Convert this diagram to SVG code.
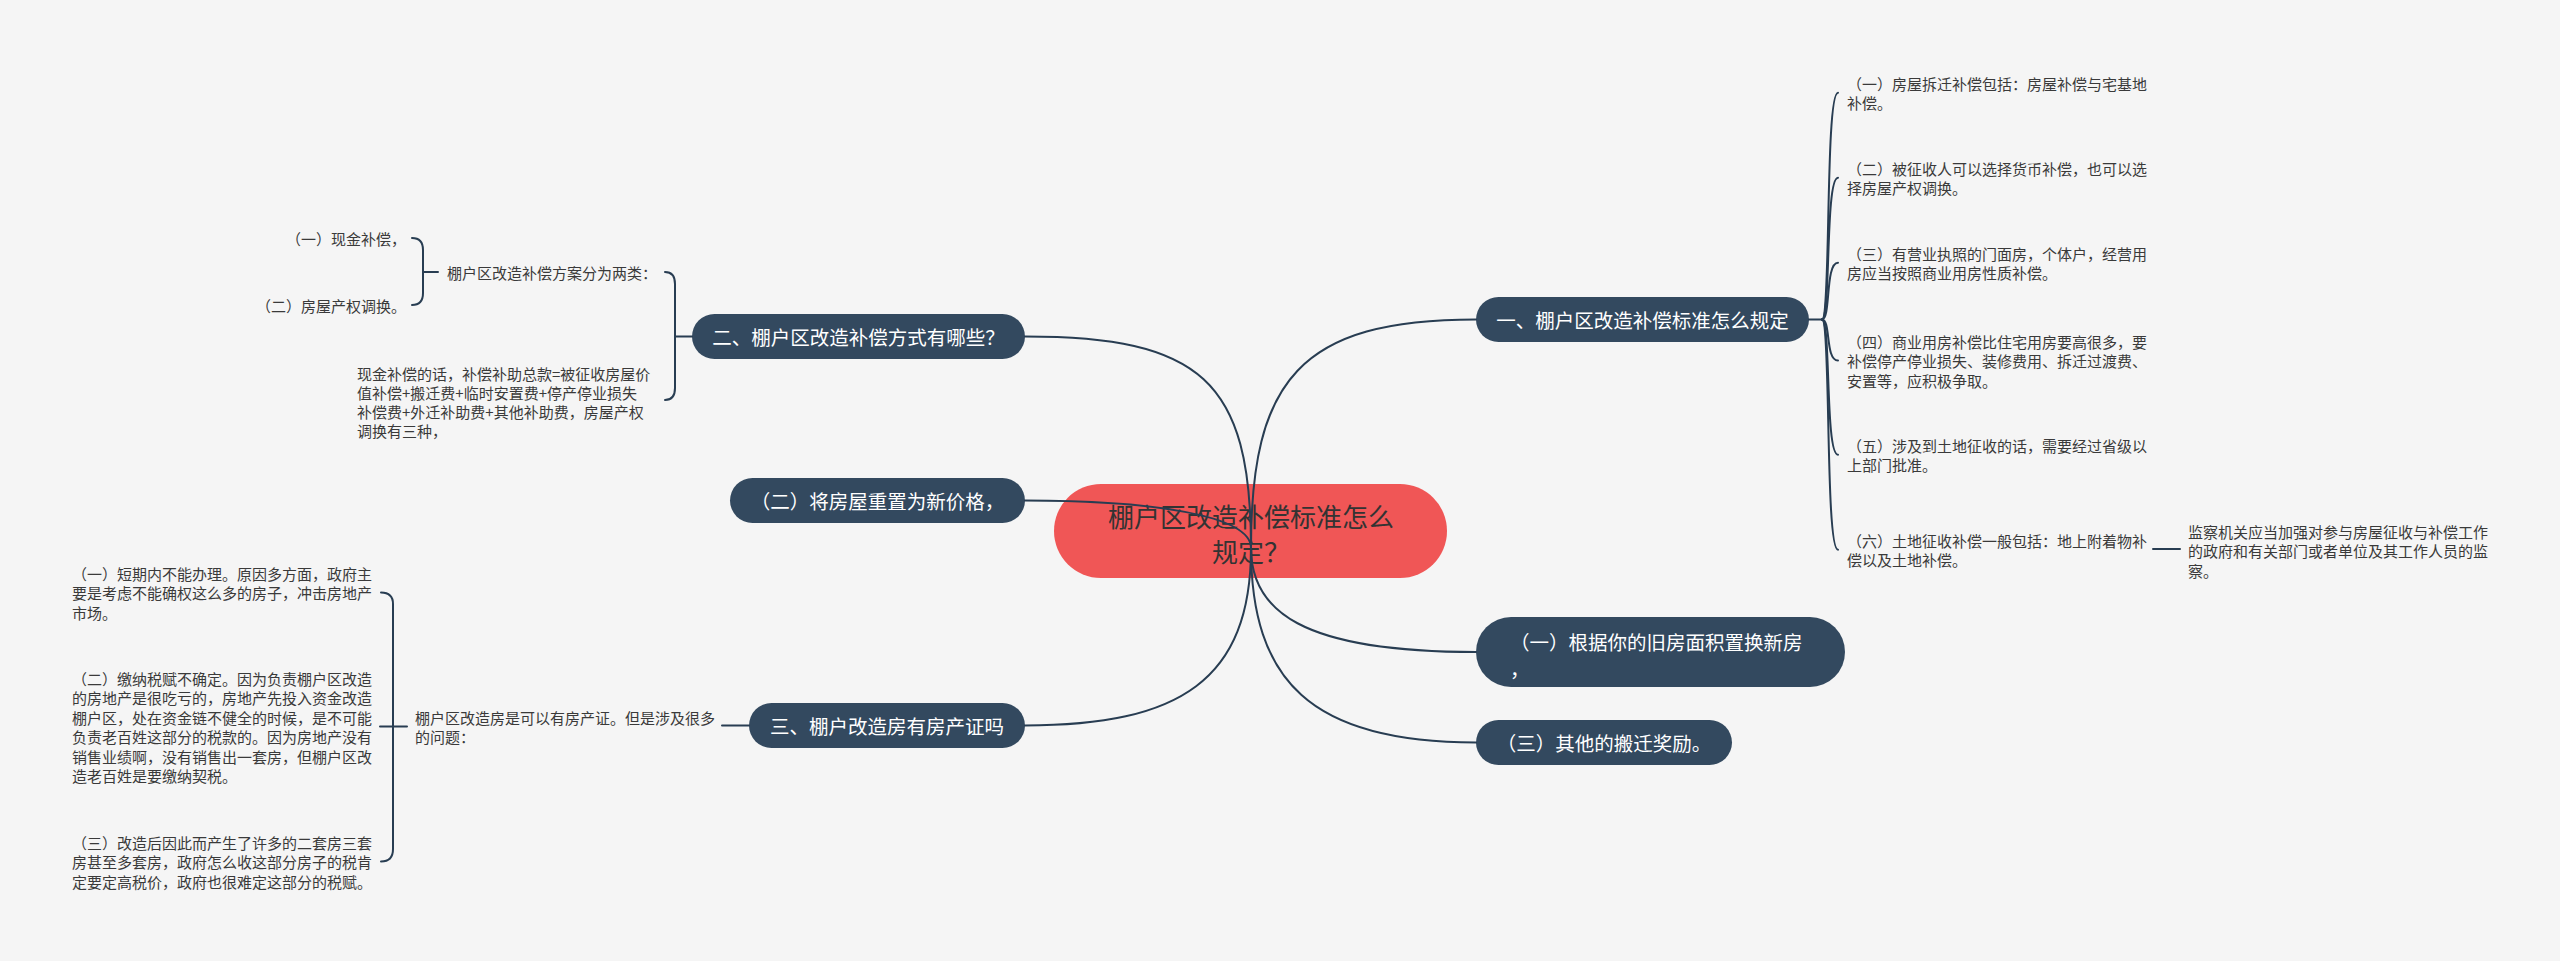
<svg xmlns="http://www.w3.org/2000/svg" width="2560" height="961" viewBox="0 0 2560 961">
<style>
text{font-family:"Noto Sans CJK SC","Microsoft YaHei",sans-serif;dominant-baseline:central}
.pill{fill:#33495f}
.pt{fill:#ffffff;font-size:19.5px;text-anchor:middle}
.sm{fill:#3a3a3a;font-size:15px}
.c{fill:none;stroke:#283d52;stroke-width:2;stroke-linecap:round}
</style>
<rect x="0" y="0" width="2560" height="961" fill="#f5f5f5"/>

<g id="root">
<rect x="1054" y="484" width="393" height="94" rx="47" fill="#f05656"/>
<text x="1251" y="515" font-size="26" fill="#333" text-anchor="middle">棚户区改造补偿标准怎么</text>
<text x="1251" y="550" font-size="26" fill="#333" text-anchor="middle">规定？</text>
</g>

<g id="n-r1">
<rect class="pill" x="1476" y="297" width="333" height="45" rx="22.5"/>
<text class="pt" x="1642.5" y="319.5">一、棚户区改造补偿标准怎么规定</text>
</g>
<g id="n-r1-1"><text class="sm" x="1847" y="83">（一）房屋拆迁补偿包括：房屋补偿与宅基地</text><text class="sm" x="1847" y="102.5">补偿。</text></g>
<g id="n-r1-2"><text class="sm" x="1847" y="168">（二）被征收人可以选择货币补偿，也可以选</text><text class="sm" x="1847" y="187.5">择房屋产权调换。</text></g>
<g id="n-r1-3"><text class="sm" x="1847" y="253">（三）有营业执照的门面房，个体户，经营用</text><text class="sm" x="1847" y="272.5">房应当按照商业用房性质补偿。</text></g>
<g id="n-r1-4"><text class="sm" x="1847" y="341">（四）商业用房补偿比住宅用房要高很多，要</text><text class="sm" x="1847" y="360.5">补偿停产停业损失、装修费用、拆迁过渡费、</text><text class="sm" x="1847" y="380">安置等，应积极争取。</text></g>
<g id="n-r1-5"><text class="sm" x="1847" y="445">（五）涉及到土地征收的话，需要经过省级以</text><text class="sm" x="1847" y="464.5">上部门批准。</text></g>
<g id="n-r1-6"><text class="sm" x="1847" y="540">（六）土地征收补偿一般包括：地上附着物补</text><text class="sm" x="1847" y="559.5">偿以及土地补偿。</text></g>
<g id="n-r1-6-1"><text class="sm" x="2188" y="531">监察机关应当加强对参与房屋征收与补偿工作</text><text class="sm" x="2188" y="550.5">的政府和有关部门或者单位及其工作人员的监</text><text class="sm" x="2188" y="570">察。</text></g>

<g id="n-r2">
<rect class="pill" x="1476" y="617" width="369" height="70" rx="35"/>
<text class="pt" x="1510" y="641" text-anchor="start" style="text-anchor:start">（一）根据你的旧房面积置换新房</text>
<text class="pt" x="1510" y="668" style="text-anchor:start">，</text>
</g>

<g id="n-r3">
<rect class="pill" x="1476" y="720" width="256" height="45" rx="22.5"/>
<text class="pt" x="1604" y="742.5">（三）其他的搬迁奖励。</text>
</g>

<g id="n-l1">
<rect class="pill" x="692" y="314" width="333" height="45" rx="22.5"/>
<text class="pt" x="858.5" y="336.5">二、棚户区改造补偿方式有哪些？</text>
</g>
<g id="n-l1-1"><text class="sm" x="447" y="272">棚户区改造补偿方案分为两类：</text></g>
<g id="n-l1-1-1"><text class="sm" x="406" y="238" text-anchor="end">（一）现金补偿，</text></g>
<g id="n-l1-1-2"><text class="sm" x="406" y="305" text-anchor="end">（二）房屋产权调换。</text></g>
<g id="n-l1-2"><text class="sm" x="357" y="373">现金补偿的话，补偿补助总款=被征收房屋价</text><text class="sm" x="357" y="392">值补偿+搬迁费+临时安置费+停产停业损失</text><text class="sm" x="357" y="411">补偿费+外迁补助费+其他补助费，房屋产权</text><text class="sm" x="357" y="430">调换有三种，</text></g>

<g id="n-l2">
<rect class="pill" x="730" y="478" width="295" height="45" rx="22.5"/>
<text class="pt" x="877.5" y="500.5">（二）将房屋重置为新价格，</text>
</g>

<g id="n-l3">
<rect class="pill" x="749" y="703" width="276" height="45" rx="22.5"/>
<text class="pt" x="887" y="725.5">三、棚户改造房有房产证吗</text>
</g>
<g id="n-l3-1"><text class="sm" x="415" y="717">棚户区改造房是可以有房产证。但是涉及很多</text><text class="sm" x="415" y="736.5">的问题：</text></g>
<g id="n-l3-1-1"><text class="sm" x="72" y="573">（一）短期内不能办理。原因多方面，政府主</text><text class="sm" x="72" y="592.5">要是考虑不能确权这么多的房子，冲击房地产</text><text class="sm" x="72" y="612">市场。</text></g>
<g id="n-l3-1-2"><text class="sm" x="72" y="678">（二）缴纳税赋不确定。因为负责棚户区改造</text><text class="sm" x="72" y="697.5">的房地产是很吃亏的，房地产先投入资金改造</text><text class="sm" x="72" y="717">棚户区，处在资金链不健全的时候，是不可能</text><text class="sm" x="72" y="736.5">负责老百姓这部分的税款的。因为房地产没有</text><text class="sm" x="72" y="756">销售业绩啊，没有销售出一套房，但棚户区改</text><text class="sm" x="72" y="775.5">造老百姓是要缴纳契税。</text></g>
<g id="n-l3-1-3"><text class="sm" x="72" y="842">（三）改造后因此而产生了许多的二套房三套</text><text class="sm" x="72" y="861.5">房甚至多套房，政府怎么收这部分房子的税肯</text><text class="sm" x="72" y="881">定要定高税价，政府也很难定这部分的税赋。</text></g>

<g id="connectors" class="c">
<path class="c" d="M1251,548 C1251,380 1300,319.5 1476,319.5"/>
<path class="c" d="M1251,548 C1251,610 1300,652 1476,652"/>
<path class="c" d="M1251,548 C1251,680 1310,742.5 1476,742.5"/>
<path class="c" d="M1251,548 C1251,380 1200,336.5 1025,336.5"/>
<path class="c" d="M1251,548 C1251,515 1150,500.5 1025,500.5"/>
<path class="c" d="M1251,548 C1251,680 1180,725.5 1025,725.5"/>

<path class="c" d="M1809,319.5 L1822,319.5"/>
<path class="c" d="M1822,319.5 C1831,319.5 1825,92.75 1838,92.75"/>
<path class="c" d="M1822,319.5 C1831,319.5 1825,177.75 1838,177.75"/>
<path class="c" d="M1822,319.5 C1831,319.5 1825,262.75 1838,262.75"/>
<path class="c" d="M1822,319.5 C1831,319.5 1825,360.5 1838,360.5"/>
<path class="c" d="M1822,319.5 C1831,319.5 1825,454.75 1838,454.75"/>
<path class="c" d="M1822,319.5 C1831,319.5 1825,549.75 1838,549.75"/>
<path class="c" d="M2153,549 L2180,549"/>

<path class="c" d="M692,336.5 L675,336.5 M675,336.5 L675,284 Q675,272 665,272 M675,336.5 L675,388 Q675,400 665,400"/>
<path class="c" d="M438,272 L423,272 M423,272 L423,250 Q423,238 412,238 M423,272 L423,293 Q423,305 412,305"/>

<path class="c" d="M749,725.5 L722,725.5"/>
<path class="c" d="M407,726.5 L380,726.5 M393,726.5 L393,604 Q393,592.5 381,592.5 M393,726.5 L393,849 Q393,861.5 381,861.5"/>
</g>
</svg>
